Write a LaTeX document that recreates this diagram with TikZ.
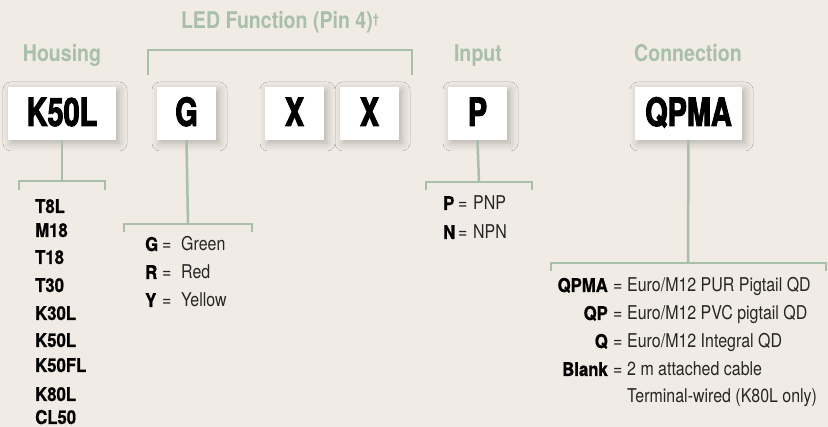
\documentclass[tikz,border=0pt]{standalone}
\usepackage{fontspec}
\setmainfont{TeX Gyre Heros}
\newfontfamily\headfont{TeX Gyre Heros}[FakeStretch=0.85]
\newfontfamily\boxfont{TeX Gyre Heros}[FakeStretch=0.74, BoldFeatures={FakeBold=2.5}]
\newfontfamily\keyfont{TeX Gyre Heros}[FakeStretch=0.88, BoldFeatures={FakeBold=0.8}]
\newfontfamily\descfont{TeX Gyre Heros}[FakeStretch=0.84]
\usetikzlibrary{shadows.blur}
\definecolor{paper}{RGB}{240,235,228}
\definecolor{sage}{RGB}{168,191,169}
\tikzset{
  codebox/.style={fill=white, minimum height=53pt, inner sep=0pt, text height=28pt, text depth=3pt,
    font=\boxfont\bfseries\fontsize{39}{39}\selectfont,
    blur shadow={shadow xshift=3pt, shadow yshift=-3pt, shadow blur radius=8pt, shadow opacity=25}},
  head/.style={text=sage, anchor=base, inner sep=0pt, font=\headfont\bfseries\fontsize{23}{23}\selectfont},
  link/.style={draw=sage, line width=2.5pt},
  key/.style={inner sep=0pt, font=\keyfont\bfseries\fontsize{19}{19}\selectfont},
  desc/.style={anchor=base west, inner sep=0pt, text=black!85, font=\descfont\fontsize{19}{19}\selectfont},
}
\begin{document}
\begin{tikzpicture}[x=1pt, y=-1pt]
	\fill[paper] (0,0) rectangle (828,427);
	\useasboundingbox (0,0) rectangle (828,427);

	% Headings
	\node[head] (hHousing) at (62,62) {Housing};
	\node[head] (hLed) at (280,29) {LED Function (Pin 4)\raisebox{5pt}{\fontsize{13}{13}\selectfont †}};
	\node[head] (hInput) at (478,62) {Input};
	\node[head] (hConn) at (688,62) {Connection};

	% Code boxes
	\node[codebox, minimum width=108pt] (housing) at (62,113.5) {K50L};
	\node[codebox, minimum width=59pt] (led) at (186.5,113.5) {G};
	\node[codebox, minimum width=59pt] (xa) at (294.5,113.5) {X};
	\node[codebox, minimum width=59pt] (xb) at (369.5,113.5) {X};
	\node[codebox, minimum width=59pt] (input) at (477.5,113.5) {P};
	\node[codebox, minimum width=107pt] (conn) at (688.5,113.5) {QPMA};

	% Bracket ends
	\coordinate (hJoin) at (62,181);
	\coordinate (lJoin) at (188,224);
	\coordinate (iJoin) at (479,182);
	\coordinate (cJoin) at (688,263);

	% Lines
	\draw[link] (148,75) -- (148,50) -- (412,50) -- (412,75);
	\draw[link] (housing.south) -- (hJoin);
	\draw[link] (19,190) -- (19,181) -- (105,181) -- (105,190);
	\draw[link] (led.south) -- (lJoin);
	\draw[link] (124,232) -- (124,224) -- (252,224) -- (252,232);
	\draw[link] (input.south) -- (iJoin);
	\draw[link] (426,190) -- (426,182) -- (532,182) -- (532,190);
	\draw[link] (conn.south) -- (cJoin);
	\draw[link] (551,271) -- (551,263) -- (826,263) -- (826,271);

	% Housing list
	\foreach \t/\y in {T8L/213, M18/237, T18/264, T30/292, K30L/320, K50L/347, K50FL/372, K80L/401, CL50/424}
		\node[key, anchor=base west] (hs-\t) at (35,\y) {\t};

	% LED list
	\foreach \k/\v/\y in {G/Green/251, R/Red/279, Y/Yellow/307} {
		\node[key, anchor=base west] (lk-\k) at (145,\y) {\k};
		\node[desc] (le-\k) at (162,\y) {=};
		\node[desc] (lv-\k) at (181,\y) {\v};
	}

	% Input list
	\foreach \k/\v/\y in {P/PNP/210, N/NPN/239} {
		\node[key, anchor=base west] (ik-\k) at (443,\y) {\k};
		\node[desc] (ie-\k) at (458,\y) {=};
		\node[desc] (iv-\k) at (473,\y) {\v};
	}

	% Connection list
	\foreach \k/\v/\y in {QPMA/Euro\slash M12 PUR Pigtail QD/292, QP/Euro\slash M12 PVC pigtail QD/320,
		Q/Euro\slash M12 Integral QD/348, Blank/2 m attached cable/376} {
		\node[key, anchor=base east] (ck-\k) at (608,\y) {\k};
		\node[desc] (ce-\k) at (613,\y) {=};
		\node[desc] (cv-\k) at (627,\y) {\v};
	}
	\node[desc] (cv-wired) at (627,403) {Terminal-wired (K80L only)};
\end{tikzpicture}
\end{document}
